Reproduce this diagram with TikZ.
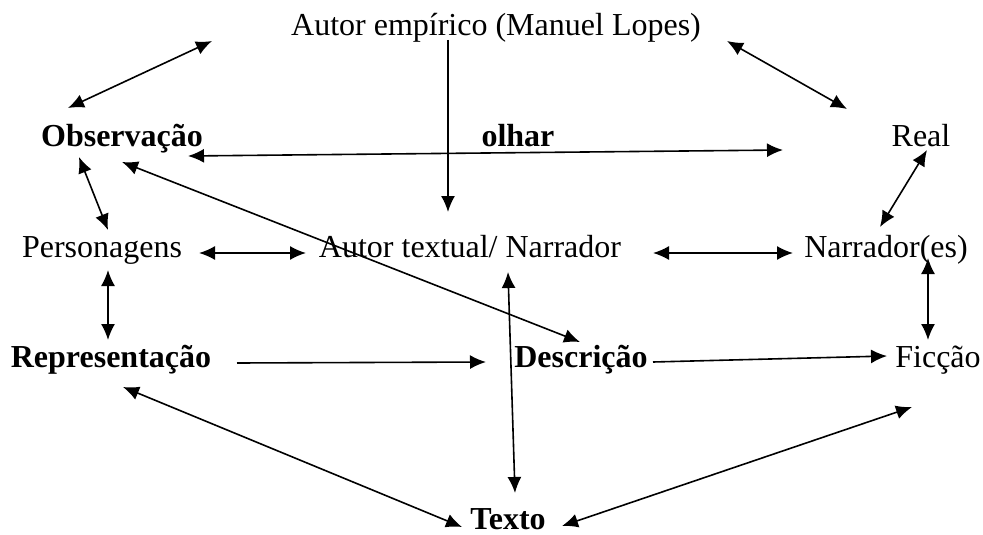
\documentclass[tikz,border=0pt]{standalone}
\usepackage{fontspec}
\setmainfont{Liberation Serif}
\usetikzlibrary{arrows.meta}
\tikzset{
    concept/.style={inner sep=0pt,anchor=base,font=\fontsize{32}{38}\selectfont},
    concept bold/.style={concept,font=\fontsize{32}{38}\selectfont\bfseries},
    link/.style={line width=1.6pt,-{Latex[length=16pt,width=14pt]}},
    link both/.style={line width=1.6pt,{Latex[length=16pt,width=14pt]}-{Latex[length=16pt,width=14pt]}}
}

\begin{document}
\begin{tikzpicture}[x=1pt,y=-1pt]
\useasboundingbox (0,0) rectangle (983,535);

% ========= Concepts =========
\node[concept] (emp) at (496,36) {Autor empírico (Manuel Lopes)};
\node[concept bold] (obs) at (122,146) {Observação};
\node[concept bold] (olhar) at (518,146) {olhar};
\node[concept] (real) at (921,146) {Real};
\node[concept] (pers) at (102,257) {Personagens};
\node[concept] (at) at (470,257) {Autor textual/ Narrador};
\node[concept] (narr) at (886,257) {Narrador(es)};
\node[concept bold] (rep) at (111,367) {Representação};
\node[concept bold] (desc) at (581,367) {Descrição};
\node[concept] (fic) at (938,367) {Ficção};
\node[concept bold] (texto) at (508,529) {Texto};

% ========= Arrow ends =========
\coordinate (obs-up) at (68,108);
\coordinate (emp-left) at (212,41);
\coordinate (emp-right) at (727,41);
\coordinate (real-up) at (847,109);
\coordinate (emp-down) at (448,40);
\coordinate (at-up) at (448,212);
\coordinate (obs-olhar) at (188,156);
\coordinate (real-olhar) at (783,150);
\coordinate (obs-desc) at (122,162);
\coordinate (desc-obs) at (580,342);
\coordinate (obs-down) at (79,157);
\coordinate (pers-up) at (108,230);
\coordinate (real-down) at (927,150);
\coordinate (narr-up) at (880,227);
\coordinate (pers-right) at (199,253);
\coordinate (at-left) at (306,253);
\coordinate (at-right) at (653,253);
\coordinate (narr-left) at (793,253);
\coordinate (pers-down) at (108,270);
\coordinate (rep-up) at (108,340);
\coordinate (narr-down) at (928,258);
\coordinate (fic-up) at (928,340);
\coordinate (at-down) at (508,272);
\coordinate (texto-up) at (515,493);
\coordinate (rep-right) at (237,363);
\coordinate (desc-left) at (486,362);
\coordinate (desc-right) at (653,362);
\coordinate (fic-left) at (887,356);
\coordinate (rep-down) at (123,387);
\coordinate (texto-left) at (462,527);
\coordinate (fic-down) at (912,407);
\coordinate (texto-right) at (562,526);

% ========= Links =========
\foreach \a/\b in {obs-up/emp-left, emp-right/real-up, obs-olhar/real-olhar,
    obs-desc/desc-obs, obs-down/pers-up, real-down/narr-up, pers-right/at-left,
    at-right/narr-left, pers-down/rep-up, narr-down/fic-up, at-down/texto-up,
    rep-down/texto-left, fic-down/texto-right}
{
    \draw[link both] (\a) -- (\b);
}
\draw[link] (emp-down) -- (at-up);
\draw[link] (rep-right) -- (desc-left);
\draw[link] (desc-right) -- (fic-left);

\end{tikzpicture}
\end{document}
